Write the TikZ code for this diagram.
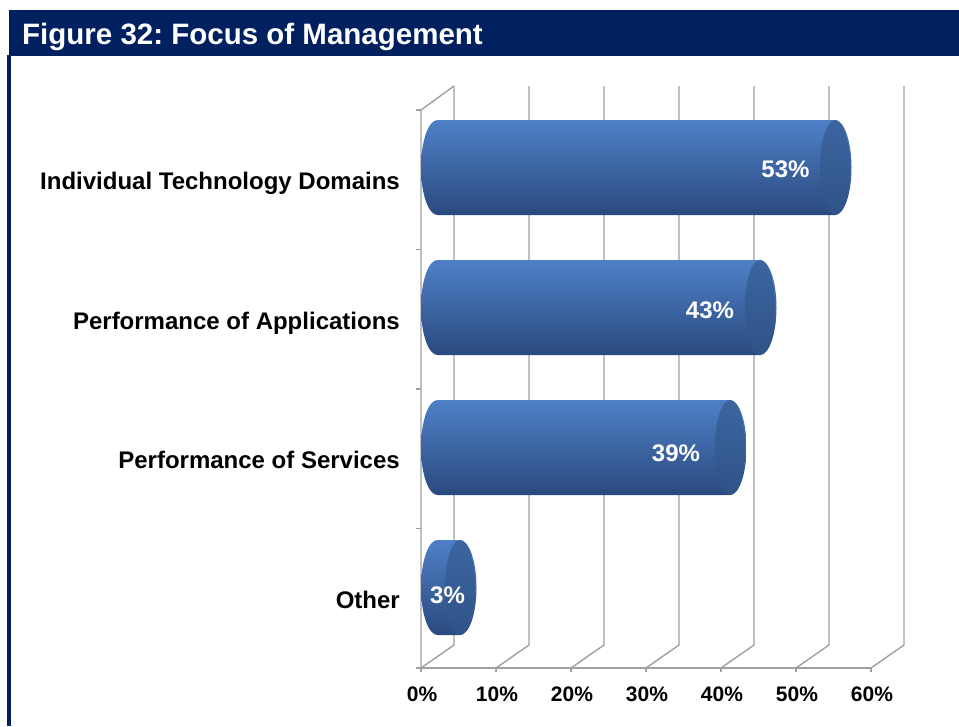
\documentclass[tikz,border=0pt]{standalone}
\usepackage{fontspec}
\setmainfont{Liberation Sans}
\frenchspacing
\definecolor{navy}{HTML}{002060}
\definecolor{gridc}{HTML}{A0A0A0}
\definecolor{bartop}{HTML}{4E80C7}
\definecolor{barmid}{HTML}{659CE2}
\definecolor{barbot}{HTML}{2A4A7E}
\definecolor{captop}{HTML}{3C659F}
\definecolor{capbot}{HTML}{2F5388}
\tikzset{
  gridline/.style={draw=gridc, line width=1.4pt},
  catlabel/.style={anchor=base east, font=\bfseries\fontsize{24}{24}\selectfont, text=black, inner sep=0pt},
  axlabel/.style={anchor=base, font=\bfseries\fontsize{21}{21}\selectfont, text=black, inner sep=0pt},
  vallabel/.style={anchor=base, font=\bfseries\fontsize{24}{24}\selectfont, text=white, inner sep=0pt},
}
\newcommand\cylbar[2]{%
  \pgfmathsetmacro\xe{437.5+7.5*#1}%
  \shade[top color=bartop, middle color=barmid, bottom color=barbot]
    (437.5,#2-47.5) -- (\xe,#2-47.5)
    arc[start angle=-90, end angle=90, x radius=16.5, y radius=47.5]
    -- (437.5,#2+47.5)
    arc[start angle=90, end angle=270, x radius=16.5, y radius=47.5] -- cycle;
  \shade[top color=captop, bottom color=capbot] (\xe,#2) ellipse[x radius=15, y radius=47.5];
}
\begin{document}
\begin{tikzpicture}[x=1pt,y=-1pt]
\useasboundingbox (0,0) rectangle (959,726);
\fill[white] (0,0) rectangle (959,726);
\fill[navy] (9,10) rectangle (959,55.5);
\fill[navy] (7,55) rectangle (11,726);
\node[anchor=base west, text=white, font=\bfseries\fontsize{29.5}{29.5}\selectfont, inner sep=0pt] (title) at (22,44) {Figure 32: Focus of Management};
% walls and gridlines
\foreach \k in {0,...,6} {
  \draw[gridline] (421+75*\k,668) -- (454+75*\k,645) -- (454+75*\k,86);
  \draw[gridline] (421+75*\k,668) -- ++(0,4);
}
\draw[gridline] (421,668) -- (871,668);
\draw[gridline] (421,668) -- (421,110) -- (454,86);
\foreach \y in {110,249.5,389,528.5,668} \draw[gridline] (416,\y) -- (421,\y);
% bars
\cylbar{53}{167.5}
\cylbar{43}{307.5}
\cylbar{39}{447.5}
\cylbar{3}{587.5}
\node[vallabel] (v1) at (785.5,177) {53\%};
\node[vallabel] (v2) at (710,318.5) {43\%};
\node[vallabel] (v3) at (676,461) {39\%};
\node[vallabel] (v4) at (447.5,603.5) {3\%};
% category labels
\node[catlabel] (c1) at (400,189.5) {Individual Technology Domains};
\node[catlabel] (c2) at (400,329) {Performance of Applications};
\node[catlabel] (c3) at (400,468.5) {Performance of Services};
\node[catlabel] (c4) at (400,608) {Other};
% axis labels
\foreach \k/\t in {0/0,1/10,2/20,3/30,4/40,5/50,6/60}
  \node[axlabel] (a\k) at (422+75*\k,701.5) {\t\%};
\end{tikzpicture}
\end{document}
